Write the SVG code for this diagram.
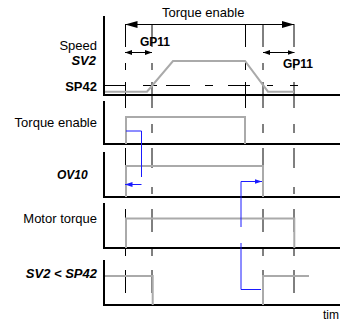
<svg xmlns="http://www.w3.org/2000/svg" width="340" height="321" viewBox="0 0 340 321">
<style>
text{font-family:"Liberation Sans",Arial,sans-serif;fill:#000}
.lbl{font-size:13px;text-anchor:end}
.b{font-weight:bold}
.bi{font-weight:bold;font-style:italic}
.axis{stroke:#000;stroke-width:2;fill:none}
.tick{stroke:#000;stroke-width:1;fill:none}
.wave{stroke:#aaa;stroke-width:2;fill:none}
.blue{stroke:#1a1aff;stroke-width:1;fill:none}
</style>
<defs>
<marker id="ah" markerUnits="userSpaceOnUse" markerWidth="12" markerHeight="8" refX="12" refY="4" orient="auto-start-reverse"><path d="M0,0.5 L12,4 L0,7.5 Z" fill="#000"/></marker>
<marker id="as" markerUnits="userSpaceOnUse" markerWidth="8" markerHeight="6" refX="7" refY="3" orient="auto-start-reverse"><path d="M0,0.5 L7,3 L0,5.5 Z" fill="#000"/></marker>
<marker id="ab" markerUnits="userSpaceOnUse" markerWidth="8" markerHeight="6" refX="7.5" refY="3" orient="auto"><path d="M0,0.5 L7.5,3 L0,5.5 Z" fill="#1a1aff"/></marker>
</defs>

<g id="labels">
<text x="162" y="17" font-size="13">Torque enable</text>
<text class="lbl" x="97" y="50">Speed</text>
<text class="lbl bi" x="96" y="65" font-size="12">SV2</text>
<text class="lbl b" x="97" y="91">SP42</text>
<text class="lbl" x="97" y="127">Torque enable</text>
<text class="bi" x="57" y="179" font-size="12">OV10</text>
<text class="lbl" x="97" y="223">Motor torque</text>
<text class="lbl bi" x="97" y="278" font-size="12.5">SV2 &lt; SP42</text>
<text x="323" y="319" font-size="12">tim</text>
</g>

<g id="markers-lines">
<path class="tick" d="M125.5,24V47M125.5,63V70M125.5,82V108M125.5,124V133M125.5,148V168M125.5,187V194M125.5,209V232M125.5,249V256M125.5,270V293"/>
<path class="tick" d="M152,24V47M152,63V70M152,82V108M152,124V133M152,148V168M152,187V194M152,209V232M152,249V256M152,270V293"/>
<path class="tick" d="M245.5,24V47M245.5,63V70M245.5,82V108"/>
<path class="tick" d="M263,24V47M263,63V70M263,82V108M263,124V133M263,148V168M263,187V194M263,209V232M263,249V256M263,270V293"/>
<path class="tick" d="M294,24V47M294,63V70M294,82V108M294,124V133M294,148V168M294,187V194M294,209V232M294,249V256M294,270V293"/>
<path class="tick" d="M104,85.5H125M143,85.5H157M166,85.5H190M205,85.5H213M228,85.5H250M267,85.5H273M290,85.5H298"/>
</g>

<g id="spans">
<path class="tick" d="M125.5,24.5H294" marker-start="url(#ah)" marker-end="url(#ah)"/>
<path class="tick" d="M125,52.5H152" marker-start="url(#as)" marker-end="url(#as)"/>
<path class="tick" d="M263,52.5H294.5" marker-start="url(#as)" marker-end="url(#as)"/>
<text class="b" x="140" y="46" font-size="12">GP11</text>
<text class="b" x="283" y="68" font-size="12">GP11</text>
</g>

<g id="axes">
<path class="axis" d="M104,16V95H340"/>
<path class="axis" d="M104,101V144H340"/>
<path class="axis" d="M104,152V197H340"/>
<path class="axis" d="M104,203V248H340"/>
<path class="axis" d="M104,260V305H340"/>
</g>

<g id="waves">
<path class="wave" d="M105,91.7H147L173,61H245L268,91.7H294"/>
<path class="wave" d="M126,144V117H245V144"/>
<path class="wave" d="M126,197V166H263V197"/>
<path class="wave" d="M126,248V218.5H294.3V248"/>
<path class="wave" d="M105,276H152.7V305"/>
<path class="wave" d="M263,305V276H309"/>
</g>

<g id="connectors">
<path class="blue" d="M126,131H141.5V177"/>
<path class="blue" d="M141.5,184.5H125" marker-end="url(#ab)"/>
<path class="blue" d="M261,289.5H241V243"/>
<path class="blue" d="M241,227V181.5H262" marker-end="url(#ab)"/>
</g>
</svg>
